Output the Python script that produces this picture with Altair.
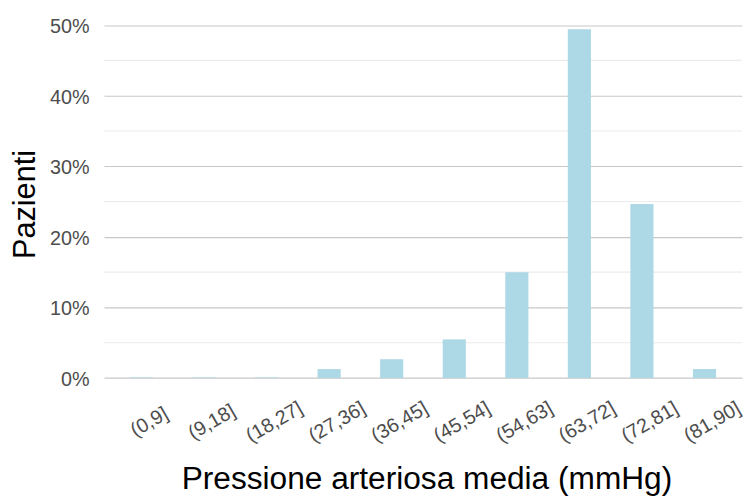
import altair as alt
import pandas as pd

categories = ["(0,9]", "(9,18]", "(18,27]", "(27,36]", "(36,45]",
              "(45,54]", "(54,63]", "(63,72]", "(72,81]", "(81,90]"]
percent = [0.09, 0.09, 0.09, 1.26, 2.66, 5.47, 15.0, 49.4, 24.67, 1.27]
major_ticks = [0, 10, 20, 30, 40, 50]
minor_ticks = [5, 15, 25, 35, 45]

df = pd.DataFrame({"cls": categories, "pct": percent})
minor_df = pd.DataFrame({"v": minor_ticks})

y_scale = alt.Scale(domain=[-2.47, 51.77], nice=False, zero=False)

minor = alt.Chart(minor_df).mark_rule(color="#ebebeb", strokeWidth=1.1).encode(
    y=alt.Y("v:Q", scale=y_scale)
)

bars = alt.Chart(df).mark_bar(color="#ADD8E6").encode(
    x=alt.X(
        "cls:N",
        sort=categories,
        scale=alt.Scale(paddingInner=0.63, paddingOuter=0.415),
        axis=alt.Axis(
            title="Pressione arteriosa media (mmHg)",
            titleFontSize=32,
            titleFont="Liberation Sans",
            titleFontWeight="normal",
            titleColor="#000000",
            titleBaseline="alphabetic",
            titleY=94,
            titleX=326,
            labelAngle=-30,
            labelAlign="center",
            labelBaseline="top",
            labelFontSize=20,
            labelFont="Liberation Sans",
            labelColor="#4d4d4d",
            labelPadding=18,
            labelOffset=3,
            ticks=False,
            tickSize=0,
            domain=False,
            grid=False,
        ),
    ),
    y=alt.Y(
        "pct:Q",
        scale=y_scale,
        axis=alt.Axis(
            title="Pazienti",
            titleFontSize=31,
            titleFont="Liberation Sans",
            titleFontWeight="normal",
            titleColor="#000000",
            titleBaseline="alphabetic",
            titleX=-70,
            values=major_ticks,
            labelExpr="datum.value + '%'",
            labelFontSize=20,
            labelFont="Liberation Sans",
            labelColor="#4d4d4d",
            labelPadding=15,
            labelOffset=1.5,
            ticks=False,
            tickSize=0,
            domain=False,
            grid=True,
            gridColor="#c8c8c8",
            gridWidth=1.1,
        ),
    ),
    y2=alt.datum(0),
)

chart = alt.layer(minor, bars).properties(
    width=645,
    height=387,
    background="white",
    autosize=alt.AutoSizeParams(type="none"),
    padding={"left": 97, "top": 2, "right": 1, "bottom": 100},
).configure_view(stroke=None)

chart.save("out.html", embed_options={"renderer": "svg", "actions": False})
